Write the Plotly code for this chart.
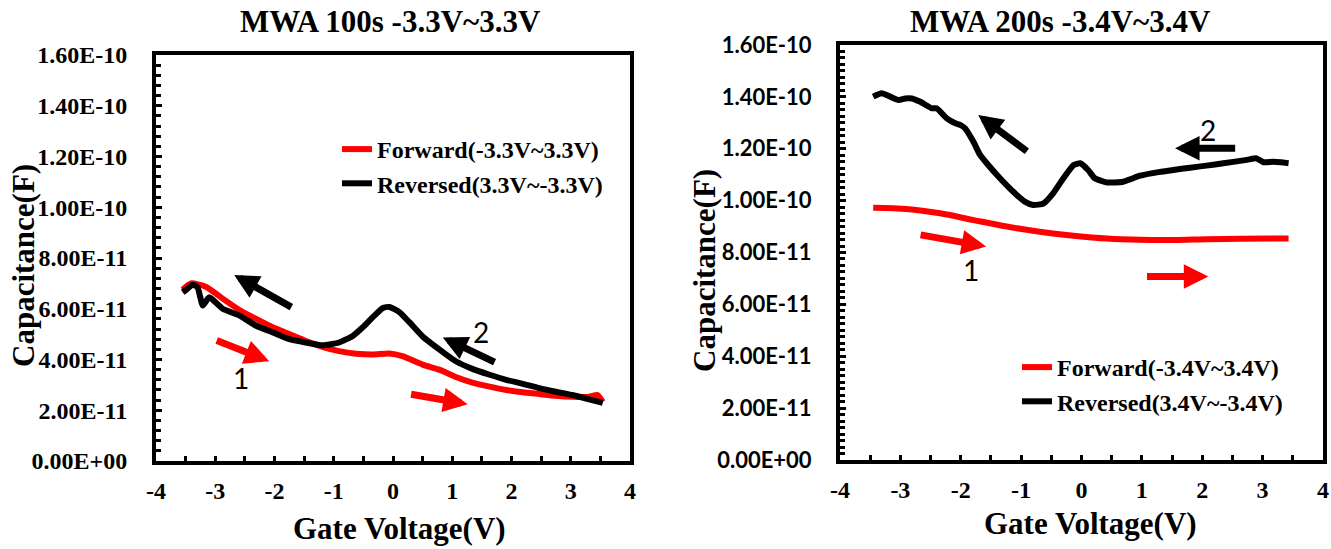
import plotly.graph_objects as go

W, H = 1331, 549

# ---------------- data ----------------
# Left panel: MWA 100s
fwd1_v = [-3.55, -3.41, -3.16, -2.875, -2.59, -2.31, -2.03, -1.75, -1.47, -1.19, -0.91, -0.62,
          -0.34, -0.06, 0.16, 0.5, 0.78, 1.06, 1.34, 1.63, 1.91, 2.19, 2.47, 2.75, 3.03, 3.31, 3.45, 3.54]
fwd1_c = [6.75e-11, 7.0e-11, 6.87e-11, 6.4e-11, 5.95e-11, 5.6e-11, 5.27e-11, 5.0e-11, 4.73e-11, 4.5e-11,
          4.33e-11, 4.23e-11, 4.2e-11, 4.24e-11, 4.13e-11, 3.8e-11, 3.6e-11, 3.31e-11, 3.09e-11, 2.93e-11,
          2.8e-11, 2.71e-11, 2.64e-11, 2.57e-11, 2.53e-11, 2.53e-11, 2.6e-11, 2.33e-11]
rev1_v = [3.54, 3.31, 3.03, 2.75, 2.47, 2.19, 1.91, 1.63, 1.34, 1.06, 0.78, 0.5, 0.276, 0.107, -0.06,
          -0.17, -0.34, -0.51, -0.68, -0.91, -1.19, -1.47, -1.75, -2.03, -2.31, -2.59, -2.875, -3.1,
          -3.21, -3.30, -3.38, -3.49, -3.55]
rev1_c = [2.29e-11, 2.43e-11, 2.6e-11, 2.73e-11, 2.87e-11, 3.04e-11, 3.2e-11, 3.4e-11, 3.63e-11,
          3.93e-11, 4.4e-11, 4.91e-11, 5.47e-11, 5.87e-11, 6.07e-11, 6.03e-11, 5.67e-11, 5.27e-11,
          4.93e-11, 4.67e-11, 4.56e-11, 4.67e-11, 4.8e-11, 5.07e-11, 5.33e-11, 5.73e-11, 6.0e-11,
          6.45e-11, 6.13e-11, 6.85e-11, 6.95e-11, 6.75e-11, 6.65e-11]

# Right panel: MWA 200s
fwd2_v = [-3.45, -2.90, -2.34, -1.79, -1.24, -0.69, -0.13, 0.42, 0.97, 1.52, 2.07, 2.63, 3.43]
fwd2_c = [9.73e-11, 9.68e-11, 9.51e-11, 9.25e-11, 9.0e-11, 8.8e-11, 8.65e-11, 8.54e-11, 8.49e-11,
          8.48e-11, 8.51e-11, 8.53e-11, 8.54e-11]
rev2_v = [3.43, 3.30, 3.18, 3.01, 2.90, 2.74, 2.35, 2.07, 1.80, 1.52, 1.25, 0.97, 0.69, 0.42, 0.22,
          0.11, -0.02, -0.13, -0.30, -0.47, -0.63, -0.80, -0.94, -1.13, -1.35, -1.57, -1.68, -1.79,
          -1.93, -2.01, -2.09, -2.23, -2.40, -2.48, -2.67, -2.81, -2.92, -3.03, -3.17, -3.31, -3.45]
rev2_c = [11.44e-11, 11.48e-11, 11.50e-11, 11.48e-11, 11.63e-11, 11.57e-11, 11.44e-11, 11.35e-11,
          11.27e-11, 11.18e-11, 11.09e-11, 10.96e-11, 10.73e-11, 10.70e-11, 10.86e-11, 11.18e-11,
          11.44e-11, 11.37e-11, 10.86e-11, 10.28e-11, 9.89e-11, 9.83e-11, 9.96e-11, 10.34e-11,
          10.86e-11, 11.44e-11, 11.76e-11, 12.27e-11, 12.79e-11, 12.92e-11, 12.98e-11, 13.17e-11,
          13.56e-11, 13.56e-11, 13.81e-11, 13.94e-11, 13.94e-11, 13.88e-11, 14.01e-11, 14.14e-11,
          14.01e-11]

# axis ticks
x_tickvals = [-4, -3, -2, -1, 0, 1, 2, 3, 4]
x_ticktext = ["-4", "-3", "-2", "-1", "0", "1", "2", "3", "4"]
y_tickvals = [0, 2e-11, 4e-11, 6e-11, 8e-11, 1.0e-10, 1.2e-10, 1.4e-10, 1.6e-10]
y_ticktext = ["0.00E+00", "2.00E-11", "4.00E-11", "6.00E-11", "8.00E-11",
              "1.00E-10", "1.20E-10", "1.40E-10", "1.60E-10"]

titles = ["MWA 100s -3.3V~3.3V", "MWA 200s -3.4V~3.4V"]
legend_names = [["Forward(-3.3V~3.3V)", "Reversed(3.3V~-3.3V)"],
                ["Forward(-3.4V~3.4V)", "Reversed(3.4V~-3.4V)"]]

# direction arrows: (tail_x, tail_y, head_x, head_y, colour)
arrows1 = [(-1.69, 6.03e-11, -2.68, 7.33e-11, "black"),
           (-3.0, 4.77e-11, -2.09, 3.93e-11, "red"),
           (1.74, 3.87e-11, 0.84, 4.87e-11, "black"),
           (0.28, 2.64e-11, 1.26, 2.24e-11, "red")]
labels1 = [(-2.57, 3.27e-11, "1"), (1.49, 5.07e-11, "2")]
arrows2 = [(-0.88, 11.86e-11, -1.71, 13.30e-11, "black"),
           (2.57, 12.02e-11, 1.55, 12.02e-11, "black"),
           (-2.69, 8.69e-11, -1.58, 8.23e-11, "red"),
           (1.06, 7.07e-11, 2.10, 7.07e-11, "red")]
labels2 = [(-1.83, 7.34e-11, "1"), (2.10, 12.72e-11, "2")]

# ---------------- figure ----------------
SERIF = "Liberation Serif"
SANS = "Lato"
RED = "#FF0000"

fig = go.Figure()
fig.add_trace(go.Scatter(x=fwd1_v, y=fwd1_c, mode="lines", name=legend_names[0][0],
                         line=dict(color=RED, width=6, shape="spline", smoothing=0.6),
                         xaxis="x", yaxis="y", legend="legend"))
fig.add_trace(go.Scatter(x=rev1_v, y=rev1_c, mode="lines", name=legend_names[0][1],
                         line=dict(color="black", width=6, shape="spline", smoothing=0.5),
                         xaxis="x", yaxis="y", legend="legend"))
fig.add_trace(go.Scatter(x=fwd2_v, y=fwd2_c, mode="lines", name=legend_names[1][0],
                         line=dict(color=RED, width=6, shape="spline", smoothing=0.8),
                         xaxis="x2", yaxis="y2", legend="legend2"))
fig.add_trace(go.Scatter(x=rev2_v, y=rev2_c, mode="lines", name=legend_names[1][1],
                         line=dict(color="black", width=6, shape="spline", smoothing=0.5),
                         xaxis="x2", yaxis="y2", legend="legend2"))


def px_x(p):
    return p / W


def px_y(p):
    return 1 - p / H


def xaxis_cfg(domain, anchor):
    return dict(domain=domain, anchor=anchor, range=[-4, 4], tickvals=x_tickvals, ticktext=x_ticktext,
                ticks="inside", ticklen=5, tickwidth=3, tickcolor="black",
                minor=dict(dtick=0.5, tick0=0, ticks="inside", ticklen=5, tickwidth=3, tickcolor="black"),
                showline=True, linewidth=4, linecolor="black", mirror=True,
                showgrid=False, zeroline=False, ticklabelstandoff=5, automargin=False,
                tickfont=dict(family=SERIF, size=24, color="black", weight="bold"))


def yaxis_cfg(domain, anchor, minor_dtick, font):
    return dict(domain=domain, anchor=anchor, range=[0, 1.6e-10], tickvals=y_tickvals, ticktext=y_ticktext,
                ticks="inside", ticklen=6, tickwidth=3, tickcolor="black",
                minor=dict(dtick=minor_dtick, tick0=0, ticks="inside", ticklen=5, tickwidth=3, tickcolor="black"),
                showline=True, linewidth=4, linecolor="black", mirror=True,
                showgrid=False, zeroline=False, ticklabelstandoff=20, automargin=False,
                tickfont=font)


fig.update_layout(
    width=W, height=H, margin=dict(l=0, r=0, t=0, b=0, pad=0, autoexpand=False),
    paper_bgcolor="white", plot_bgcolor="white", showlegend=True,
    xaxis=xaxis_cfg([px_x(156), px_x(630)], "y"),
    yaxis=yaxis_cfg([px_y(461), px_y(55)], "x", 4e-12,
                    dict(family=SERIF, size=24, color="black", weight="bold")),
    xaxis2=xaxis_cfg([px_x(840), px_x(1323)], "y2"),
    yaxis2=yaxis_cfg([px_y(460), px_y(45)], "x2", 2.5e-12,
                     dict(family=SANS, size=22, color="black", weight="bold")),
    legend=dict(x=px_x(337), y=px_y(127), xanchor="left", yanchor="top",
                bgcolor="rgba(0,0,0,0)", borderwidth=0, itemwidth=30,
                font=dict(family=SERIF, size=24, color="black", weight="bold")),
    legend2=dict(x=px_x(1017), y=px_y(345), xanchor="left", yanchor="top",
                 bgcolor="rgba(0,0,0,0)", borderwidth=0, itemwidth=30,
                 font=dict(family=SERIF, size=24, color="black", weight="bold")),
)

ann = []
# titles and axis titles
for txt, cx, cy in [(titles[0], 390, 22), (titles[1], 1060, 21)]:
    ann.append(dict(text=txt, x=px_x(cx), y=px_y(cy), xref="paper", yref="paper", showarrow=False,
                    xanchor="center", yanchor="middle",
                    font=dict(family=SERIF, size=31, color="black", weight="bold")))
for cx, cy in [(400, 528), (1090, 523)]:
    ann.append(dict(text="Gate Voltage(V)", x=px_x(cx), y=px_y(cy), xref="paper", yref="paper",
                    showarrow=False, xanchor="center", yanchor="middle",
                    font=dict(family=SERIF, size=31, color="black", weight="bold")))
for cx, cy in [(24, 266), (704, 271)]:
    ann.append(dict(text="Capacitance(F)", x=px_x(cx), y=px_y(cy), xref="paper", yref="paper",
                    showarrow=False, xanchor="center", yanchor="middle", textangle=-90,
                    font=dict(family=SERIF, size=31, color="black", weight="bold")))

for axx, axy, arrows, labels in [("x", "y", arrows1, labels1), ("x2", "y2", arrows2, labels2)]:
    for tx, ty, hx, hy, col in arrows:
        ann.append(dict(text="", x=hx, y=hy, ax=tx, ay=ty, xref=axx, yref=axy, axref=axx, ayref=axy,
                        showarrow=True, arrowhead=2, arrowsize=0.7, arrowwidth=7, arrowcolor=col,
                        standoff=0, startstandoff=0))
    for lx, ly, t in labels:
        ann.append(dict(text=t, x=lx, y=ly, xref=axx, yref=axy, showarrow=False,
                        xanchor="center", yanchor="middle",
                        font=dict(family=SANS, size=28, color="black")))

fig.update_layout(annotations=ann)
fig.write_html("out.html")
